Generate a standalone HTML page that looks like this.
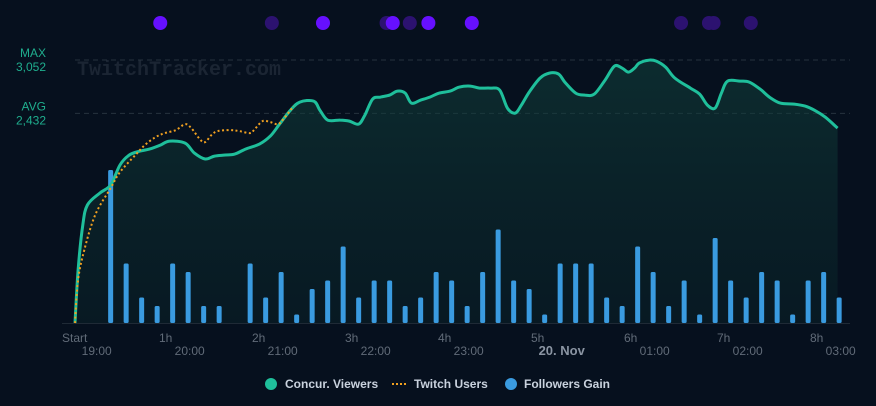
<!DOCTYPE html>
<html><head><meta charset="utf-8"><style>
html,body{margin:0;padding:0;background:#06101e;}
svg{display:block;font-family:"Liberation Sans",sans-serif;}
</style></head><body>
<svg id="chart" width="876" height="406" viewBox="0 0 876 406">
<defs><linearGradient id="fillg" x1="0" y1="0" x2="0" y2="1"><stop offset="0" stop-color="#12433d" stop-opacity="0.55"/><stop offset="1" stop-color="#0b2a2c" stop-opacity="0.35"/></linearGradient></defs>
<rect width="876" height="406" fill="#06101e"/>
<text x="77" y="75" font-family="Liberation Mono,monospace" font-weight="bold" font-size="20" fill="#1b2533">TwitchTracker.com</text>
<g id="grid"></g><g id="area"></g><g id="bars"></g><g id="lines"></g><g id="dots"></g><g id="axis"></g>
<g font-size="12" font-weight="bold" fill="#c9d2de">
<g><circle cx="271" cy="384" r="6" fill="#1fbf9b"/><text x="285" y="388">Concur. Viewers</text></g>
<g><line x1="392" y1="384" x2="406" y2="384" stroke="#f0a020" stroke-width="2" stroke-dasharray="2,2"/><text x="414" y="388">Twitch Users</text></g>
<g><circle cx="511" cy="384" r="6" fill="#3a9be0"/><text x="524" y="388">Followers Gain</text></g>
</g>
</svg>
<script>
const viewerMinutes=[0,2,5,8,16,23,29,35,42,48,55,61,71,77,84,90,97,103,110,119,126,132,139,145,154,158,163,171,177,183,187,192,197,203,208,213,217,223,229,235,242,248,255,261,268,274,279,284,288,293,300,306,312,316,323,329,335,342,348,353,357,361,364,370,375,381,387,397,403,408,413,417,421,429,435,442,448,455,464,471,477,484,492];
const viewerValues=[0,615,1137,1369,1508,1601,1833,1949,1995,2018,2064,2111,2088,1972,1903,1937,1949,1960,2018,2076,2169,2308,2470,2563,2575,2470,2355,2355,2343,2308,2413,2598,2622,2645,2691,2668,2552,2587,2622,2668,2691,2738,2749,2726,2726,2703,2494,2436,2529,2680,2842,2900,2888,2796,2668,2645,2656,2819,2981,2958,2912,2958,3016,3050,3039,2970,2842,2726,2656,2529,2494,2668,2807,2807,2796,2714,2622,2552,2540,2517,2470,2389,2262];
const twitchMinutes=[0,2,6,13,23,29,39,45,52,58,65,71,75,81,84,88,92,100,106,113,116,121,126,131,135,141];
const twitchValues=[0,499,847,1253,1566,1751,1949,2064,2157,2204,2238,2308,2262,2123,2099,2180,2227,2238,2227,2204,2250,2343,2331,2308,2378,2517];
const followerValues=[18,7,3,2,7,6,2,2,0,7,3,6,1,4,5,9,3,5,5,2,3,6,5,2,6,11,5,4,1,7,7,7,3,2,9,6,2,5,1,10,5,3,6,5,1,5,6,3];
const followerStartMinute=23;
const followerStepMinutes=10;
const raidMinutes=[55,127,160,201,205,216,228,256,391,409,412,436];
const raidStrong=[1,0,1,0,1,0,1,1,0,0,0,0];
const hourLabels=["Start","1h","2h","3h","4h","5h","6h","7h","8h"];
const clockLabels=["19:00","20:00","21:00","22:00","23:00","20. Nov","01:00","02:00","03:00"];
const refLabels=["MAX","AVG"];
const refValues=[3052,2432];

const NS="http://www.w3.org/2000/svg";
const X0=75,PXMIN=93/60,BASE=323,VMAX=3052,TOPY=60,FPX=8.5;
const xs=m=>X0+m*PXMIN;
const ys=v=>BASE-v/VMAX*(BASE-TOPY);
const yf=f=>f*FPX;
function mk(tag,attrs,parent){const e=document.createElementNS(NS,tag);for(const k in attrs)e.setAttribute(k,attrs[k]);parent.appendChild(e);return e;}
function smooth(pts){let d="M"+pts[0][0]+","+pts[0][1];for(let i=0;i<pts.length-1;i++){const p0=pts[Math.max(0,i-1)],p1=pts[i],p2=pts[i+1],p3=pts[Math.min(pts.length-1,i+2)];const c1x=p1[0]+(p2[0]-p0[0])/6,c1y=p1[1]+(p2[1]-p0[1])/6,c2x=p2[0]-(p3[0]-p1[0])/6,c2y=p2[1]-(p3[1]-p1[1])/6;d+=" C"+c1x.toFixed(1)+","+c1y.toFixed(1)+" "+c2x.toFixed(1)+","+c2y.toFixed(1)+" "+p2[0].toFixed(1)+","+p2[1].toFixed(1);}return d;}
const G=id=>document.getElementById(id);

// reference lines
refValues.forEach((v,i)=>{
 const l=mk("line",{x1:75,x2:850,y1:ys(v),y2:ys(v),stroke:"#27323f","stroke-dasharray":"5,4"},G("grid"));
 
 
 const t1=mk("text",{x:46,y:ys(v)-3,"text-anchor":"end",fill:"#1fae8e","font-size":"12"},G("grid"));t1.textContent=refLabels[i];
 
 
 const t2=mk("text",{x:46,y:ys(v)+11,"text-anchor":"end",fill:"#1fae8e","font-size":"12"},G("grid"));t2.textContent=v.toLocaleString("en-US");
 
 
});
const bl=mk("line",{x1:62,x2:850,y1:BASE+0.5,y2:BASE+0.5,stroke:"#1f2a36"},G("grid"));



// viewers
const vp=viewerMinutes.map((m,i)=>[xs(m),ys(viewerValues[i])]);
const vd=smooth(vp);
const ar=mk("path",{d:vd+" L"+vp[vp.length-1][0]+","+BASE+" L"+vp[0][0]+","+BASE+" Z",fill:"url(#fillg)"},G("area"));


const vl=mk("path",{d:vd,fill:"none",stroke:"#1fbf9b","stroke-width":"3","stroke-linejoin":"round"},G("lines"));


const tp=twitchMinutes.map((m,i)=>[xs(m),ys(twitchValues[i])]);
const tl=mk("path",{d:smooth(tp),fill:"none",stroke:"#f0a020","stroke-width":"2","stroke-dasharray":"2,2.5"},G("lines"));



// followers
followerValues.forEach((f,i)=>{
 if(!f)return;const cx=xs(followerStartMinute+i*followerStepMinutes),h=yf(f);
 const b=mk("rect",{x:cx-2.5,y:BASE-h,width:5,height:h,rx:1.5,fill:"#3a9be0"},G("bars"));
 
 
});

// raid dots
raidMinutes.forEach((m,i)=>{
 const c=mk("circle",{cx:xs(m),cy:23,r:7,fill:raidStrong[i]?"#6610ff":"#2c1270"},G("dots"));
 
 
});

// x axis labels
hourLabels.forEach((h,i)=>{
 const t=mk("text",{x:i===0?62:xs(i*60)-9,y:342,fill:"#616b78","font-size":"12"},G("axis"));t.textContent=h;
 
 
 const c=clockLabels[i];const bold=c.indexOf("Nov")>=0;
 const t2=mk("text",{x:xs(14+i*60),y:355,"text-anchor":"middle",fill:bold?"#8b95a3":"#616b78","font-size":bold?"13":"12","font-weight":bold?"bold":"normal"},G("axis"));t2.textContent=c;
 
 
});
</script>
</body></html>
